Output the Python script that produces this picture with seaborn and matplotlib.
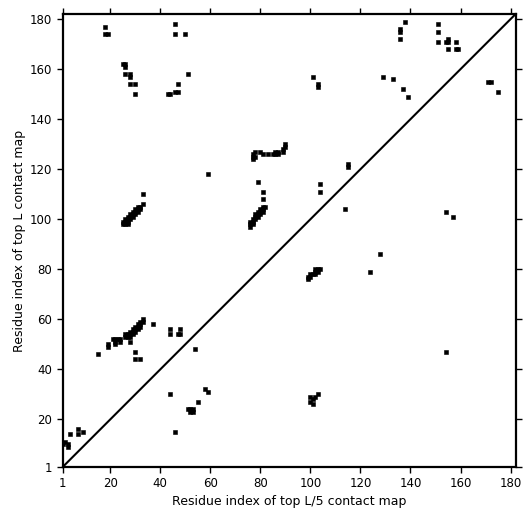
import numpy as np
import pandas as pd
import matplotlib
matplotlib.use("Agg")
import matplotlib.pyplot as plt
import seaborn as sns

# === DATA: contact pairs (residue i, residue j) ===
L = 182

# upper-left triangle: top L contacts
top_l_pairs = [
    (18, 177), (18, 174), (19, 174), (46, 178), (46, 174), (50, 174),
    (25, 162), (26, 162), (26, 161), (26, 158), (28, 158), (28, 157),
    (28, 154), (30, 154), (30, 150), (43, 150), (44, 150), (46, 151),
    (47, 151), (47, 154), (51, 158),
    (101, 157), (103, 153), (103, 154),
    (138, 179), (136, 175), (136, 176), (136, 172), (151, 178), (151, 175),
    (151, 171), (154, 171), (155, 171), (155, 172), (158, 171), (155, 168),
    (158, 168), (159, 168), (129, 157), (133, 156), (137, 152), (139, 149),
    (171, 155), (172, 155), (175, 151),
    (33, 110), (33, 106),
    (25, 98), (26, 98), (27, 98), (25, 99), (26, 99), (27, 99), (26, 100),
    (27, 100), (28, 100), (27, 101), (28, 101), (29, 101), (28, 102),
    (29, 102), (30, 102), (29, 103), (30, 103), (31, 103), (30, 104),
    (31, 104), (32, 104), (31, 105), (32, 105),
    (59, 118), (79, 115), (81, 111), (81, 108),
    (104, 114), (104, 111), (115, 121), (115, 122),
    (77, 124), (77, 125), (78, 125), (77, 126), (78, 127), (80, 127),
    (81, 126), (83, 126), (85, 126), (86, 126), (87, 126), (86, 127),
    (87, 127), (89, 127), (89, 128), (90, 129), (90, 130),
    (76, 97), (76, 98), (77, 98), (76, 99), (77, 99), (77, 100), (78, 100),
    (78, 101), (79, 101), (78, 102), (79, 102), (80, 102), (79, 103),
    (80, 103), (81, 103), (80, 104), (81, 104), (81, 105), (82, 105),
    (19, 49), (19, 50), (21, 52), (22, 52), (23, 52), (24, 52), (22, 51),
    (22, 50), (24, 51), (28, 51),
    (26, 53), (27, 53), (27, 54), (28, 54), (28, 55), (29, 55), (29, 56),
    (30, 56), (30, 57), (31, 57), (31, 58), (32, 58), (32, 59), (33, 59),
    (33, 60), (26, 54), (28, 53), (29, 54), (30, 55), (31, 56), (32, 57),
    (37, 58), (44, 56), (44, 54), (48, 56), (47, 54), (48, 54), (54, 48),
    (15, 46), (30, 47), (30, 44), (32, 44),
    (58, 32), (59, 31), (55, 27), (51, 24), (52, 24), (53, 24), (52, 23),
    (53, 23), (44, 30), (46, 15),
    (1, 10), (2, 11), (3, 9), (3, 10), (4, 14), (7, 16), (7, 14), (9, 15),
]

# lower-right triangle: top L/5 contacts
top_l5_pairs = [
    (99, 76), (99, 77), (100, 77), (100, 78), (101, 78), (102, 78),
    (102, 79), (103, 79), (102, 80), (103, 80), (104, 80),
    (100, 29), (101, 28), (102, 29), (103, 30), (100, 27), (101, 26),
    (114, 104), (154, 103), (157, 101), (128, 86), (124, 79), (154, 47),
]

df = pd.DataFrame(top_l_pairs + top_l5_pairs, columns=["x", "y"])

# === PLOT ===
sns.set_style("ticks")
plt.rcParams["font.family"] = ["DejaVu Sans"]
plt.rcParams["text.color"] = "black"
plt.rcParams["axes.labelcolor"] = "black"
plt.rcParams["xtick.color"] = "black"
plt.rcParams["ytick.color"] = "black"

dpi = 100
fig = plt.figure(figsize=(5.31, 5.31), dpi=dpi)
ax = fig.add_axes([0.118, 0.1205, 0.853, 0.853])

# one residue cell = one square marker
cell_px = 0.853 * 531 / (L - 1)
marker_s = (1.2 * cell_px * 72 / dpi) ** 2

sns.scatterplot(data=df, x="x", y="y", marker="s", s=marker_s,
                color="black", edgecolor="black", linewidth=0.4,
                antialiased=False, ax=ax, legend=False)
sns.lineplot(x=[1, L], y=[1, L], color="black", linewidth=1.5, ax=ax)

ax.set_xlim(1, L)
ax.set_ylim(1, L)
ticks = [1, 20, 40, 60, 80, 100, 120, 140, 160, 180]
ax.set_xticks(ticks)
ax.set_yticks(ticks)
ax.tick_params(which="both", direction="out", length=4, width=1,
               top=True, right=True, labelsize=8.5, colors="black")
for sp in ax.spines.values():
    sp.set_linewidth(1.6)
    sp.set_color("black")

ax.set_xlabel("Residue index of top L/5 contact map", fontsize=9, labelpad=3)
ax.set_ylabel("Residue index of top L contact map", fontsize=9, labelpad=3)

plt.savefig("out.png", dpi=dpi)
